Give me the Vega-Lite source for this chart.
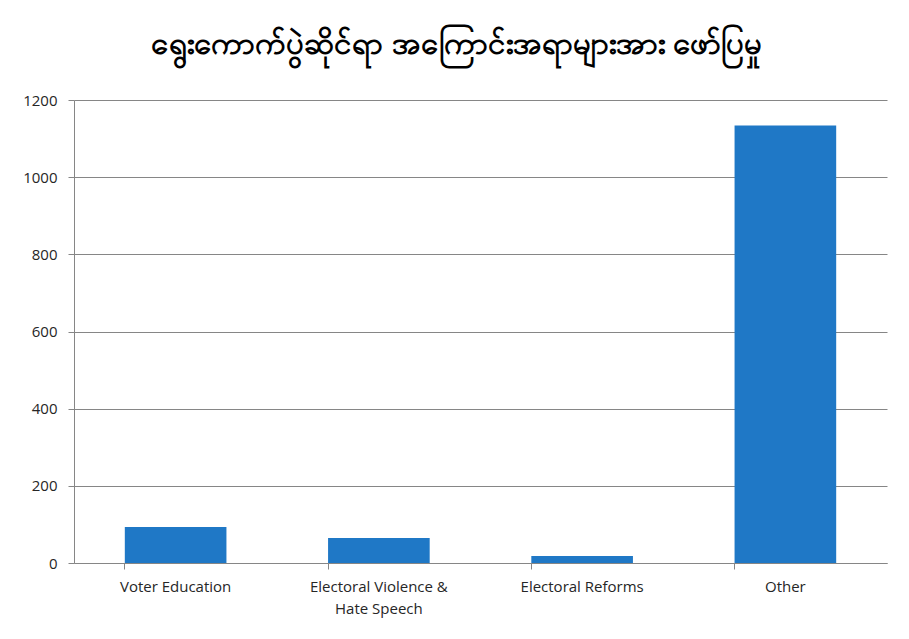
{
  "$schema": "https://vega.github.io/schema/vega-lite/v6.json",
  "width": 813,
  "height": 463,
  "autosize": {"type": "none"},
  "padding": {"left": 74, "top": 100, "right": 22, "bottom": 76},
  "background": "white",
  "title": {
    "text": "ရွေးကောက်ပွဲဆိုင်ရာ အကြောင်းအရာများအား ဖော်ပြမှု",
    "fontSize": 31,
    "fontWeight": "bold",
    "color": "#000000",
    "anchor": "middle",
    "offset": 32,
    "dx": -24
  },
  "data": {
    "values": [
      {"topic": "Voter Education", "count": 93},
      {"topic": "Electoral Violence & Hate Speech", "count": 65},
      {"topic": "Electoral Reforms", "count": 18},
      {"topic": "Other", "count": 1134}
    ]
  },
  "mark": {"type": "bar", "color": "#1f78c6"},
  "encoding": {
    "x": {
      "field": "topic",
      "type": "nominal",
      "sort": null,
      "scale": {"paddingInner": 0.5, "paddingOuter": 0.25},
      "axis": {
        "title": null,
        "labelAngle": 0,
        "bandPosition": 0,
        "labelFont": "Open Sans",
        "labelFontSize": 15,
        "labelColor": "#262626",
        "labelPadding": 10,
        "labelLineHeight": 22,
        "tickSize": 6,
        "tickColor": "#868686",
        "domainColor": "#868686",
        "labelExpr": "datum.label == 'Electoral Violence & Hate Speech' ? ['Electoral Violence &', 'Hate Speech'] : datum.label"
      }
    },
    "y": {
      "field": "count",
      "type": "quantitative",
      "scale": {"domain": [0, 1200], "nice": false},
      "axis": {
        "title": null,
        "format": "d",
        "values": [0, 200, 400, 600, 800, 1000, 1200],
        "labelFont": "Open Sans",
        "labelFontSize": 15,
        "labelColor": "#262626",
        "labelPadding": 11,
        "tickSize": 6,
        "tickColor": "#868686",
        "domainColor": "#868686",
        "gridColor": "#868686",
        "grid": true
      }
    }
  },
  "config": {
    "view": {"stroke": null},
    "axis": {"gridOpacity": 1}
  }
}
